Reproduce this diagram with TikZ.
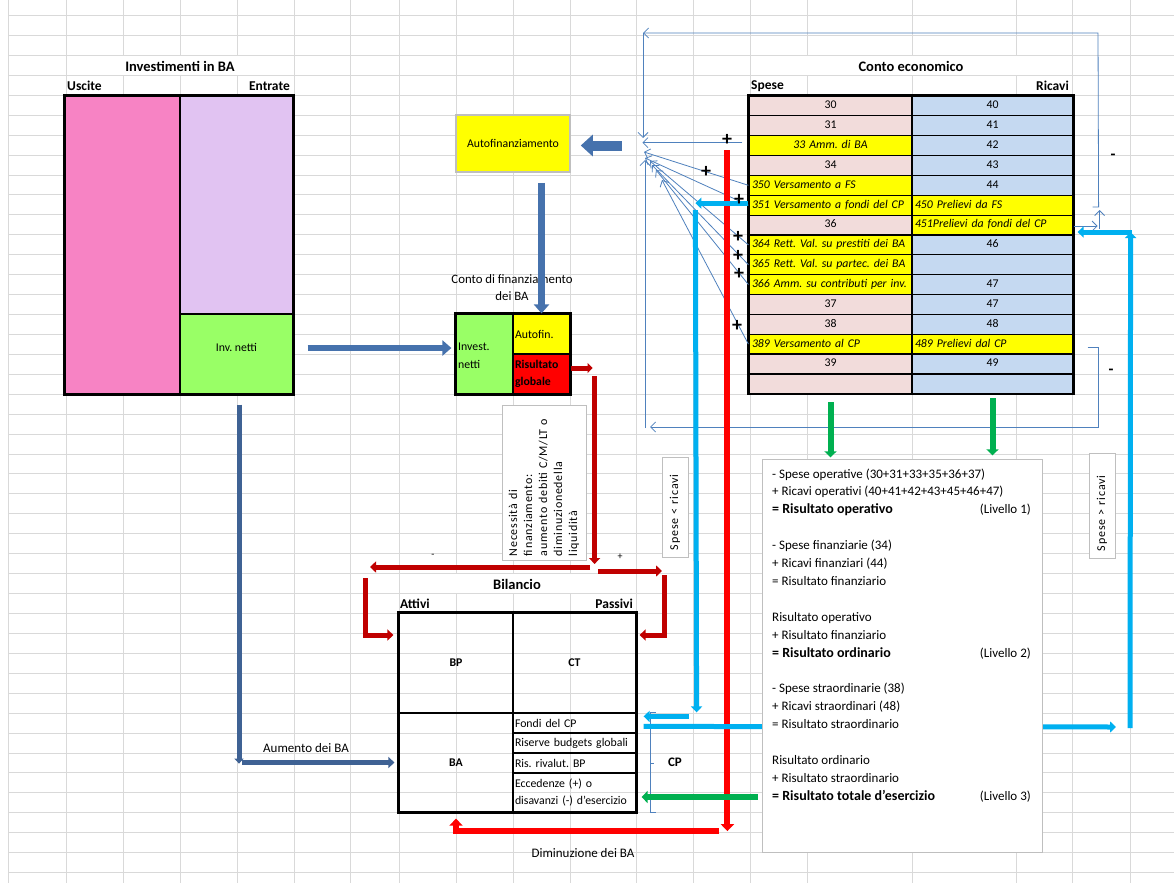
\documentclass[tikz,border=0pt]{standalone}
\usepackage{fontspec}
\setmainfont{Carlito}
\usepackage{tikz}
\usetikzlibrary{arrows.meta,positioning}
\frenchspacing

\definecolor{gridgray}{HTML}{D9D9D9}
\definecolor{invpink}{HTML}{F783C4}
\definecolor{invlilac}{HTML}{E1C3F2}
\definecolor{invgreen}{HTML}{99FF66}
\definecolor{spesepink}{HTML}{F2DCDB}
\definecolor{ricblue}{HTML}{C5D9F1}
\definecolor{cellyellow}{HTML}{FFFF00}
\definecolor{blockblue}{HTML}{4672AD}
\definecolor{aumblue}{HTML}{3F6294}
\definecolor{darkred}{HTML}{C00000}
\definecolor{brightred}{HTML}{FF0000}
\definecolor{skyblue}{HTML}{00B0F0}
\definecolor{okgreen}{HTML}{00B050}
\definecolor{connblue}{HTML}{4F81BD}

\newcommand{\calcbold}[1]{{\fontsize{14}{15}\selectfont\bfseries #1}}

\begin{document}
\begin{tikzpicture}[x=1pt, y=-1pt,
  font=\fontsize{11.8}{14}\selectfont,
  gline/.style={gridgray, line width=0.8pt},
  box/.style={draw, line width=1.2pt, inner sep=0pt},
  cell/.style={draw, line width=1.2pt, minimum height=19.85pt, inner xsep=3pt, inner ysep=0pt,
               text height=8.4pt, text depth=2.6pt},
  spn/.style={cell, fill=spesepink, text width=157pt, align=center},
  spy/.style={cell, fill=cellyellow, text width=157pt, align=left, font=\fontsize{11.8}{14}\selectfont\itshape},
  spyc/.style={spy, align=center},
  rib/.style={cell, fill=ricblue, text width=155pt, align=center},
  riy/.style={cell, fill=cellyellow, text width=155pt, align=left, font=\fontsize{11.8}{14}\selectfont\itshape},
  bcell/.style={box, minimum width=123pt, text width=119pt, inner xsep=2pt, align=left},
  hd/.style={font=\fontsize{14.5}{16}\selectfont\bfseries},
  sub/.style={inner sep=1pt, font=\fontsize{13.5}{15}\selectfont\bfseries},
  plus/.style={inner sep=0pt, font=\fontsize{20}{20}\selectfont\bfseries},
  tbox/.style={draw=black!25, line width=1pt, fill=white},
  conn/.style={connblue, line width=0.8pt, -{Straight Barb[length=5pt,width=10pt]}},
  blk/.style={blockblue, line width=6pt, -{Triangle[length=9pt,width=15pt]}},
  dred/.style={darkred, line width=5pt, -{Triangle[length=6pt,width=11pt]}},
  bred/.style={brightred, line width=6pt, -{Triangle[length=7pt,width=13pt]}},
  sky/.style={skyblue, line width=5pt, -{Triangle[length=6pt,width=11pt]}},
  grn/.style={okgreen, line width=6pt, -{Triangle[length=6pt,width=12pt]}}
]
\useasboundingbox (0,0) rectangle (1174,883);
\fill[white] (0,0) rectangle (1174,883);
% spreadsheet grid
\foreach \gx in {8,66,123,180,237,294,350,399,456,513,570,636,693,750,807,912,1016,1072,1130}
  \draw[gline] (\gx,0) -- (\gx,883);
\foreach \gk in {0,...,43}
  \draw[gline] (8,{15.5+19.93*\gk}) -- (1174,{15.5+19.93*\gk});
\fill[white] (67,56) rectangle (293,75);
\fill[white] (751,56) rectangle (1071,75);
\fill[white] (400,574) rectangle (635,593);

% investimenti in BA
\node[hd] (invtit) at (180,66) {Investimenti in BA};
\node[sub, anchor=west] (usc-l) at (66,86) {Uscite};
\node[sub, anchor=east] (entr-l) at (291,86) {Entrate};
\node[box, fill=invpink, minimum width=115pt, minimum height=298pt] (usc) at (122.5,245) {};
\node[box, fill=invlilac, minimum width=113pt, minimum height=218pt] (entr) at (236.5,205) {};
\node[box, fill=invgreen, minimum width=113pt, minimum height=80pt] (invn) at (236.5,354) {};
\node (invn-t) at (236.5,347) {Inv. netti};
\draw[line width=2.2pt] (usc.north west) rectangle (invn.south east);

% autofinanziamento
\node[draw=black!25, line width=1.5pt, fill=cellyellow, minimum width=114pt, minimum height=57pt]
  (autof) at (513,143.5) {Autofinanziamento};

% conto di finanziamento dei BA
\node[align=center, font=\fontsize{12.8}{17}\selectfont] (cftit) at (512,288) {Conto di finanziamento\\dei BA};
\node[box, fill=invgreen, minimum width=57pt, minimum height=80pt] (finv) at (484.5,354) {};
\node[anchor=north west, align=left, inner sep=0pt, font=\fontsize{11.8}{18}\selectfont] (finv-t) at (458,343) {Invest.\\netti};
\node[box, fill=cellyellow, minimum width=57pt, minimum height=40pt, text width=53pt, inner xsep=2pt, align=left]
  (afin) at (541.5,334) {Autofin.};
\node[box, fill=brightred, minimum width=57pt, minimum height=40pt, text width=53pt, inner xsep=2pt, align=left,
  font=\fontsize{11.8}{16.5}\selectfont\bfseries] (risg) at (541.5,374) {Risultato\\globale};
\draw[line width=2pt] (finv.north west) rectangle (risg.south east);

% conto economico
\node[hd] (cetit) at (911,66) {Conto economico};
\node[sub, anchor=west] (spese-l) at (750,86) {Spese};
\node[sub, anchor=east] (ricavi-l) at (1070,86) {Ricavi};
\foreach \rw/\spt/\spst/\rit/\rist in {
  1/30/spn/40/rib, 2/31/spn/41/rib, 3/33 Amm. di BA/spyc/42/rib, 4/34/spn/43/rib,
  5/350 Versamento a FS/spy/44/rib,
  6/351 Versamento a fondi del CP/spy/450 Prelievi da FS/riy,
  7/36/spn/451Prelievi da fondi del CP/riy,
  8/364 Rett. Val. su prestiti dei BA/spy/46/rib,
  9/365 Rett. Val. su partec. dei BA/spy//rib,
  10/366 Amm. su contributi per inv./spy/47/rib,
  11/37/spn/47/rib, 12/38/spn/48/rib,
  13/389 Versamento al CP/spy/489 Prelievi dal CP/riy,
  14/39/spn/49/rib, 15//spn//rib} {
  \node[\spst] (s\rw) at (830.5,{96+19.85*(\rw-0.5)}) {\spt};
  \node[\rist] (r\rw) at (992.5,{96+19.85*(\rw-0.5)}) {\rit};
}
\draw[line width=2.2pt] (s1.north west) rectangle (r15.south east);

% bilancio
\node[hd] (biltit) at (517,584) {Bilancio};
\node[sub, anchor=west] (att-l) at (399,604) {Attivi};
\node[sub, anchor=east] (pas-l) at (634,604) {Passivi};
\node[box, minimum width=114pt, minimum height=100pt, font=\fontsize{11.8}{14}\selectfont\bfseries] (bp) at (456,663) {BP};
\node[box, minimum width=123pt, minimum height=100pt, font=\fontsize{11.8}{14}\selectfont\bfseries] (ct) at (574.5,663) {CT};
\node[box, minimum width=114pt, minimum height=99pt, font=\fontsize{11.8}{14}\selectfont\bfseries] (ba) at (456,762.5) {BA};
\node[bcell, minimum height=20pt] (fcp) at (574.5,723) {Fondi del CP};
\node[bcell, minimum height=20pt] (rbg) at (574.5,743) {Riserve budgets globali};
\node[bcell, minimum height=20pt] (rrb) at (574.5,763) {Ris. rivalut. BP};
\node[bcell, minimum height=39pt, font=\fontsize{11.8}{17}\selectfont] (ecc) at (574.5,792.5) {Eccedenze (+) o\\disavanzi (-) d'esercizio};
\draw[line width=2.2pt] (bp.north west) rectangle (ecc.south east);
\draw[connblue, line width=0.8pt] ([xshift=19pt]fcp.north east) -- ([xshift=14pt]fcp.north east)
  -- ([xshift=14pt]ecc.south east) -- ([xshift=19pt]ecc.south east);
\draw[connblue, line width=0.8pt] ([xshift=14pt]rrb.east) -- ([xshift=17pt]rrb.east);
\node[font=\fontsize{13}{15}\selectfont\bfseries] (cp) at (675,762) {CP};

% thin connectors to the hub
\coordinate (loopR) at (1098,33);
\coordinate (loopL) at (643,33);
\coordinate (loopB) at (650,427);
\draw[conn] ([xshift=-6pt,yshift=3pt]s3.west) -- ++(-100,0);
\draw[conn] ([yshift=-1pt]r7.east) -- ++(24,0);
\draw[conn] ([xshift=26pt,yshift=-4pt]r7.east) -- ++(0,-19);
\draw[conn] ([xshift=19pt,yshift=18pt]r7.east) -- ([xshift=25pt,yshift=18pt]r7.east) -- (loopR) -- (loopL);
\draw[conn] (loopL) -- ++(0,105);
\draw[conn] ([xshift=14pt,yshift=-3pt]r13.east) -- ++(11,0) |- (loopB);
\draw[conn] (645,428) -- (645,160);
\foreach \rr/\hx/\hy in {5/644/152, 6/645/158, 8/650/161, 9/652/165, 10/656/170, 13/662/180}
  \draw[conn] (s\rr.west) -- (\hx,\hy);

% blue block arrows
\draw[blk, line width=10pt, -{Triangle[length=12pt,width=21pt]}]
  ([xshift=51pt,yshift=-2pt]autof.east) -- ([xshift=10pt,yshift=-2pt]autof.east);
\draw[blk, line width=7pt] ([xshift=28.5pt,yshift=-10pt]autof.south) -- (afin.north);
\draw[blk] ([xshift=14pt,yshift=6pt]invn.east) -- ([xshift=-4pt,yshift=6pt]finv.west);
\draw[aumblue, line width=5pt, -{Triangle[length=5pt,width=9pt]}] ([xshift=2.5pt,yshift=-10pt]invn.south) -- ++(0,359);
\draw[aumblue, line width=5pt, -{Triangle[length=6pt,width=11pt]}] ([xshift=-156pt]ba.west) -- ([xshift=-4pt]ba.west);
\node[font=\fontsize{13}{15}\selectfont] (aum-t) at (306,748) {Aumento dei BA};

% risultato globale
\coordinate (split) at (594,569);
\draw[dred, -{Triangle[length=5pt,width=10pt]}] ([yshift=6pt]risg.east) -- ++(22,0);
\draw[dred] ([xshift=24pt,yshift=-2pt]risg.east) -- ++(0,188);
\draw[dred] ([xshift=-4pt,yshift=2pt]split) -- ++(-220,0);
\draw[dred] ([xshift=4pt,yshift=-2pt]split) -- ++(64,0);
\draw[dred] ([xshift=-33pt,yshift=34pt]bp.north west) |- ([xshift=-5pt,yshift=28pt]bp.west);
\draw[dred] ([xshift=28pt,yshift=37pt]ct.north east) |- ([xshift=3pt,yshift=28pt]ct.east);
\node[font=\fontsize{10}{12}\selectfont] (minus-l) at (433,556) {-};
\node[font=\fontsize{10}{12}\selectfont] (plus-r) at (620,557) {+};

% autofinanziamento to diminuzione dei BA
\coordinate (redtop) at ([xshift=-21pt,yshift=-4.5pt]s3.west);
\coordinate (redbot) at ([yshift=-681pt]redtop);
\draw[bred] (redtop) -- (redbot);
\draw[bred] ([xshift=-8pt]redbot) -| ([yshift=-6pt]ba.south);
\node[font=\fontsize{13}{15}\selectfont] (dim-t) at (583,853) {Diminuzione dei BA};

% fondi del CP
\coordinate (skycorner) at (1130,727);
\draw[sky] ([yshift=2pt]s6.west) -- ++(-53,0);
\draw[sky] ([xshift=-53pt,yshift=-5pt]s6.west) -- ([xshift=60pt]fcp.north east);
\draw[sky] ([xshift=52pt,yshift=-4pt]fcp.north east) -- ([xshift=7pt,yshift=-4pt]fcp.north east);
\draw[sky] ([xshift=7pt,yshift=-14pt]fcp.north east) -- ([xshift=-14pt]skycorner);
\draw[sky] ([yshift=-1pt]skycorner) -- ([xshift=57pt,yshift=-7pt]r7.east);
\draw[sky] ([xshift=58pt,yshift=-7pt]r7.east) -- ([xshift=4pt,yshift=-7pt]r7.east);

% risultato totale
\node[tbox, minimum width=280pt, minimum height=393pt, inner sep=0pt] (calc) at (902,656) {};
\foreach \calcline [count=\i] in {
  - Spese operative (30+31+33+35+36+37),
  + Ricavi operativi (40+41+42+43+45+46+47),
  \calcbold{= Risultato operativo}, {},
  - Spese finanziarie (34),
  + Ricavi finanziari (44),
  = Risultato finanziario, {},
  Risultato operativo,
  + Risultato finanziario,
  \calcbold{= Risultato ordinario}, {},
  - Spese straordinarie (38),
  + Ricavi straordinari (48),
  = Risultato straordinario, {},
  Risultato ordinario,
  + Risultato straordinario,
  \calcbold{= Risultato totale d'esercizio}}
  \node[anchor=base west, inner sep=0pt, font=\fontsize{13}{15}\selectfont] (cl\i) at (772,{478+17.9*(\i-1)}) {\calcline};
\foreach \lv/\ln in {1/3, 2/11, 3/19}
  \node[anchor=base east, inner sep=0pt, font=\fontsize{13}{15}\selectfont] (liv\lv) at (1031,{478+17.9*(\ln-1)}) {(Livello \lv)};
\draw[grn] ([yshift=-8pt]s15.south) -- ++(0,55);
\draw[grn] ([yshift=-4pt]r15.south) -- ++(0,57);
\draw[grn] ([xshift=-4pt,yshift=-141pt]calc.west) -- ([xshift=5pt,yshift=-4.5pt]ecc.east);

% vertical notes
\node[tbox, rotate=90, minimum width=155pt, minimum height=84pt, text width=147pt, inner xsep=4pt, align=left,
  font=\fontsize{12}{15}\selectfont\addfontfeatures{LetterSpace=6}] (neces) at (544,482.5)
  {Necessità di\\finanziamento:\\aumento debiti C/M/LT o\\diminuzionedella\\liquidità};
\node[tbox, rotate=90, minimum height=26pt, text width=86pt, inner xsep=7pt, align=left,
  font=\fontsize{12}{14}\selectfont\addfontfeatures{LetterSpace=7}] (sminr) at (675,507) {Spese < ricavi};
\node[tbox, rotate=90, minimum height=26pt, text width=91pt, inner xsep=7pt, align=left,
  font=\fontsize{12}{14}\selectfont\addfontfeatures{LetterSpace=7}] (smagr) at (1102,505.5) {Spese > ricavi};

% signs
\foreach \ppx/\ppy [count=\i] in {727/140, 706/172, 739/200, 738/237, 738/256, 739/274, 737/326}
  \node[plus] (p\i) at (\ppx,\ppy) {+};
\node[font=\fontsize{16}{16}\selectfont\bfseries] (m1) at (1113,157) {-};
\node[font=\fontsize{16}{16}\selectfont\bfseries] (m2) at (1111,372) {-};
\end{tikzpicture}
\end{document}
